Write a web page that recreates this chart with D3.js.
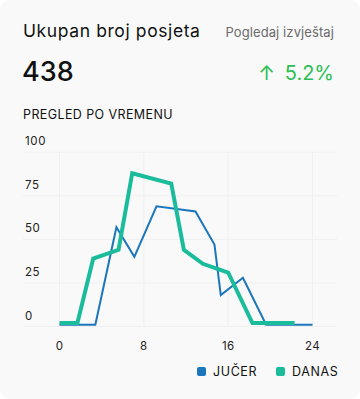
<!DOCTYPE html>
<html>
<head>
<meta charset="utf-8">
<script src="https://cdn.jsdelivr.net/npm/d3@7"></script>
<style>
  html, body { margin: 0; padding: 0; background: #fff; }
  svg { display: block; font-family: Inter, "Noto Sans", sans-serif; }
</style>
</head>
<body>
<script>
const width = 360;
const height = 399;

// data
const yTicks = [0, 25, 50, 75, 100];
const xTicks = [0, 8, 16, 24];
const jucerHours = [0, 3.4, 5.4, 7.1, 9.2, 12.9, 14.7, 15.3, 17.4, 19.6, 24];
const jucerValues = [1, 1, 57, 40, 69, 66, 47, 18, 28, 1, 1];
const danasHours = [0, 1.7, 3.2, 5.6, 6.9, 10.6, 11.8, 13.6, 16, 18.3, 22.3];
const danasValues = [2, 2, 39, 44, 88, 82, 44, 36, 31, 2, 2];
const seriesNames = ["JUČER", "DANAS"];
const colors = ["#1b76bb", "#1abc9c"];

const svg = d3.select("body").append("svg")
  .attr("width", width)
  .attr("height", height);

svg.append("rect")
  .attr("width", width)
  .attr("height", height)
  .attr("rx", 10)
  .attr("fill", "#f9f9f9");

// header
svg.append("text")
  .attr("x", 23).attr("y", 37)
  .attr("font-size", 17.5)
  .attr("letter-spacing", 0.6)
  .attr("fill", "#111")
  .text("Ukupan broj posjeta");

svg.append("text")
  .attr("x", 334).attr("y", 37)
  .attr("text-anchor", "end")
  .attr("font-size", 13)
  .attr("letter-spacing", 0.1)
  .attr("fill", "#6b6b6b")
  .text("Pogledaj izvještaj");

svg.append("text")
  .attr("x", 22).attr("y", 81)
  .attr("font-size", 27)
  .attr("font-weight", 500)
  .attr("fill", "#111")
  .text("438");

svg.append("text")
  .attr("x", 275).attr("y", 80)
  .attr("text-anchor", "end")
  .attr("font-size", 20)
  .attr("fill", "#2dbe55")
  .text("↑");

svg.append("text")
  .attr("x", 334).attr("y", 80)
  .attr("text-anchor", "end")
  .attr("font-size", 20)
  .attr("fill", "#2dbe55")
  .text("5.2%");

svg.append("text")
  .attr("x", 23).attr("y", 119)
  .attr("font-size", 12.5)
  .attr("letter-spacing", 0.4)
  .attr("fill", "#111")
  .text("PREGLED PO VREMENU");

// chart
const x = d3.scaleLinear().domain([0, 24]).range([59.5, 312.5]);
const y = d3.scaleLinear().domain([0, 100]).range([326.5, 152.3]);

const grid = svg.append("g")
  .attr("stroke", "#f0f0f0")
  .attr("stroke-width", 1);

grid.selectAll("line.h")
  .data(yTicks)
  .join("line")
  .attr("class", "h")
  .attr("x1", 23).attr("x2", 337)
  .attr("y1", d => y(d)).attr("y2", d => y(d));

grid.selectAll("line.v")
  .data(xTicks)
  .join("line")
  .attr("class", "v")
  .attr("x1", d => x(d)).attr("x2", d => x(d))
  .attr("y1", y(100)).attr("y2", y(0));

svg.append("g")
  .selectAll("text")
  .data(yTicks)
  .join("text")
  .attr("x", 25)
  .attr("y", d => y(d) - 7)
  .attr("font-size", 11.5)
  .attr("letter-spacing", 0.6)
  .attr("fill", "#222")
  .text(d => d);

svg.append("g")
  .selectAll("text")
  .data(xTicks)
  .join("text")
  .attr("x", d => x(d))
  .attr("y", 350)
  .attr("text-anchor", "middle")
  .attr("font-size", 11.5)
  .attr("letter-spacing", 0.3)
  .attr("fill", "#222")
  .text(d => d);

const line = d3.line()
  .x(d => x(d[0]))
  .y(d => y(d[1]));

svg.append("path")
  .datum(d3.zip(jucerHours, jucerValues))
  .attr("fill", "none")
  .attr("stroke", colors[0])
  .attr("stroke-width", 2)
  .attr("d", line);

svg.append("path")
  .datum(d3.zip(danasHours, danasValues))
  .attr("fill", "none")
  .attr("stroke", colors[1])
  .attr("stroke-width", 4)
  .attr("d", line);

// legend
const legendX = [197, 276];
const legend = svg.append("g")
  .selectAll("g")
  .data(seriesNames)
  .join("g")
  .attr("transform", (d, i) => `translate(${legendX[i]},367)`);

legend.append("rect")
  .attr("width", 9).attr("height", 9)
  .attr("rx", 2)
  .attr("fill", (d, i) => colors[i]);

legend.append("text")
  .attr("x", 16).attr("y", 9)
  .attr("font-size", 12.5)
  .attr("letter-spacing", 0.6)
  .attr("fill", "#111")
  .text(d => d);
</script>
</body>
</html>
